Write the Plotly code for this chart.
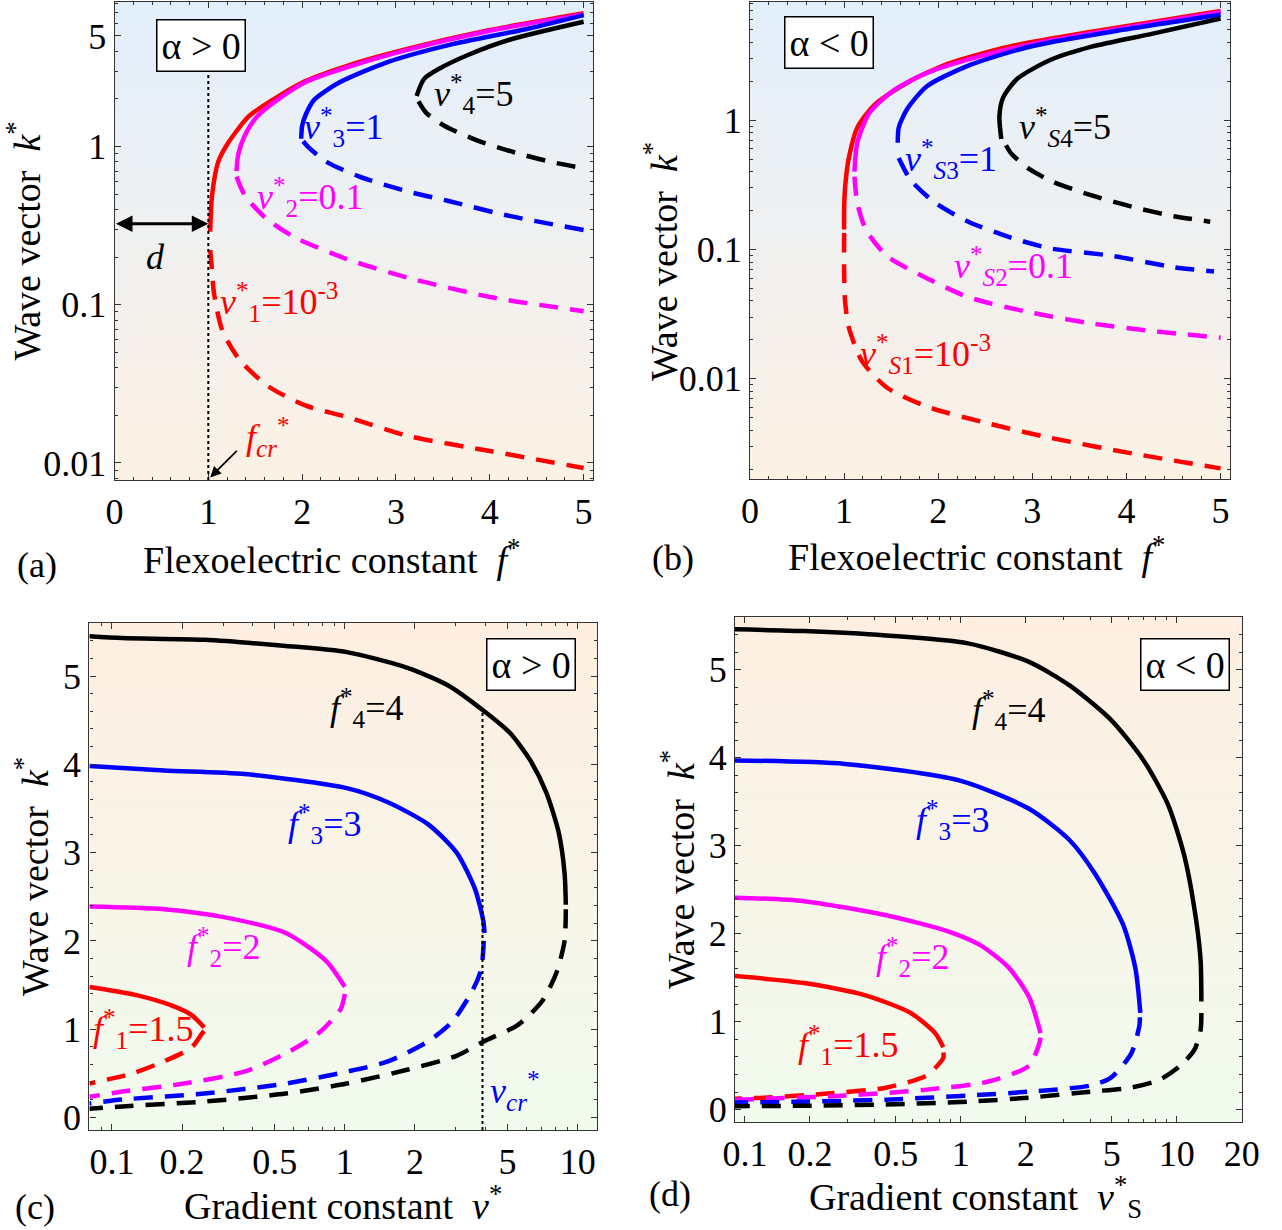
import plotly.graph_objects as go
import math

# ---------------- data ----------------
# Panel (a): alpha > 0, k* vs f*  (solid = upper branch, dashed = lower branch)
a_red_solid_f = [1.02, 1.04, 1.105, 1.214, 1.43, 1.69, 2.04, 2.48, 3.13, 4.0, 5.0]
a_red_solid_k = [0.29, 0.49, 0.80, 1.06, 1.55, 1.98, 2.6, 3.24, 4.15, 5.45, 6.97]
a_red_dash_f = [1.02, 1.04, 1.06, 1.15, 1.34, 1.65, 2.04, 2.48, 3.13, 4.0, 5.0]
a_red_dash_k = [0.222, 0.164, 0.119, 0.0686, 0.0443, 0.0302, 0.023, 0.0195, 0.0148, 0.0119, 0.0093]
a_mag_solid_f = [1.30, 1.32, 1.39, 1.52, 1.74, 2.04, 2.5, 3.13, 4.0, 5.0]
a_mag_solid_k = [0.70, 0.897, 1.18, 1.55, 1.98, 2.56, 3.2, 4.1, 5.4, 6.85]
a_mag_dash_f = [1.30, 1.39, 1.61, 1.91, 2.48, 3.13, 4.0, 5.0]
a_mag_dash_k = [0.645, 0.49, 0.354, 0.269, 0.194, 0.148, 0.112, 0.091]
a_blu_solid_f = [1.99, 2.0, 2.04, 2.13, 2.39, 2.91, 3.56, 4.43, 5.0]
a_blu_solid_k = [1.12, 1.35, 1.6, 1.98, 2.53, 3.42, 4.38, 5.6, 6.78]
a_blu_dash_f = [2.01, 2.06, 2.26, 2.61, 3.13, 3.56, 4.22, 5.0]
a_blu_dash_k = [1.08, 1.0, 0.80, 0.646, 0.519, 0.453, 0.363, 0.297]
a_blk_solid_f = [3.22, 3.30, 3.48, 3.78, 4.22, 5.0]
a_blk_solid_k = [2.09, 2.68, 3.15, 3.82, 4.75, 6.15]
a_blk_dash_f = [3.24, 3.32, 3.52, 3.87, 4.26, 4.65, 5.0]
a_blk_dash_k = [1.93, 1.64, 1.35, 1.09, 0.92, 0.80, 0.73]

# Panel (b): alpha < 0
b_red_solid_f = [1.0, 1.0, 1.01, 1.05, 1.14, 1.32, 1.67, 2.10, 2.75, 3.63, 5.0]
b_red_solid_k = [0.143, 0.2, 0.30, 0.51, 0.875, 1.31, 1.95, 2.73, 3.70, 4.83, 6.98]
b_red_dash_f = [1.0, 1.0, 1.01, 1.05, 1.19, 1.45, 1.88, 2.54, 3.19, 4.06, 5.0]
b_red_dash_k = [0.134, 0.0685, 0.040, 0.025, 0.0137, 0.0086, 0.0061, 0.0045, 0.0035, 0.00265, 0.00203]
b_mag_solid_f = [1.11, 1.14, 1.27, 1.53, 1.9, 2.5, 3.2, 4.0, 5.0]
b_mag_solid_k = [0.40, 0.67, 1.14, 1.71, 2.35, 3.2, 4.15, 5.2, 6.85]
b_mag_dash_f = [1.11, 1.14, 1.23, 1.45, 1.80, 2.32, 2.97, 3.63, 4.28, 5.0]
b_mag_dash_k = [0.366, 0.229, 0.143, 0.0895, 0.064, 0.0428, 0.0327, 0.0268, 0.0234, 0.0208]
b_blu_solid_f = [1.57, 1.58, 1.67, 1.88, 2.32, 2.97, 3.84, 5.0]
b_blu_solid_k = [0.67, 0.875, 1.22, 1.83, 2.64, 3.70, 4.83, 6.53]
b_blu_dash_f = [1.58, 1.71, 1.97, 2.32, 2.75, 3.19, 3.84, 4.5, 4.93]
b_blu_dash_k = [0.51, 0.342, 0.229, 0.164, 0.125, 0.102, 0.0895, 0.073, 0.0676]
b_blk_solid_f = [2.67, 2.65, 2.69, 2.84, 3.19, 3.63, 4.28, 5.0]
b_blk_solid_k = [0.715, 1.07, 1.50, 2.09, 2.92, 3.70, 4.67, 6.11]
b_blk_dash_f = [2.72, 2.78, 2.97, 3.23, 3.63, 4.06, 4.5, 4.89]
b_blk_dash_k = [0.64, 0.547, 0.418, 0.331, 0.262, 0.214, 0.181, 0.164]

# Panel (c): alpha > 0, k* vs v*
c_blk_solid_v = [0.08, 0.111, 0.249, 0.558, 1.02, 1.87, 2.79, 3.93, 5.1, 6.24, 7.33, 8.28, 8.78, 8.89]
c_blk_solid_k = [5.45, 5.43, 5.41, 5.34, 5.27, 5.09, 4.89, 4.61, 4.36, 4.05, 3.68, 3.23, 2.77, 2.41]
c_blk_dash_v = [8.89, 8.78, 8.1, 7.04, 5.54, 3.93, 3.02, 1.87, 1.02, 0.558, 0.249, 0.111, 0.08]
c_blk_dash_k = [2.36, 2.0, 1.64, 1.32, 1.05, 0.86, 0.70, 0.545, 0.386, 0.273, 0.182, 0.127, 0.10]
c_blu_solid_v = [0.08, 0.167, 0.373, 1.02, 1.53, 2.28, 3.02, 3.62, 3.93, 3.98]
c_blu_solid_k = [3.98, 3.93, 3.89, 3.73, 3.57, 3.32, 3.0, 2.59, 2.23, 2.09]
c_blu_dash_v = [3.95, 3.85, 3.55, 2.9, 2.28, 1.53, 1.02, 0.558, 0.249, 0.111, 0.08]
c_blu_dash_k = [2.0, 1.68, 1.45, 1.09, 0.864, 0.636, 0.52, 0.386, 0.273, 0.205, 0.16]
c_mag_solid_v = [0.08, 0.167, 0.302, 0.558, 0.834, 1.0]
c_mag_solid_k = [2.39, 2.36, 2.27, 2.09, 1.77, 1.48]
c_mag_dash_v = [1.0, 0.96, 0.77, 0.558, 0.373, 0.204, 0.111, 0.08]
c_mag_dash_k = [1.4, 1.23, 0.955, 0.727, 0.523, 0.386, 0.295, 0.236]
c_red_solid_v = [0.08, 0.126, 0.18, 0.22, 0.249]
c_red_solid_k = [1.48, 1.39, 1.27, 1.16, 1.02]
c_red_dash_v = [0.249, 0.244, 0.22, 0.167, 0.122, 0.08]
c_red_dash_k = [0.98, 0.955, 0.795, 0.636, 0.5, 0.386]

# Panel (d): alpha < 0, k* vs v*_S
d_blk_solid_v = [0.09, 0.188, 0.45, 1.08, 2.07, 3.2, 4.96, 7.02, 9.1, 10.85, 12.3, 12.9, 13.0]
d_blk_solid_k = [5.46, 5.44, 5.39, 5.30, 5.09, 4.82, 4.43, 3.97, 3.47, 2.88, 2.15, 1.69, 1.23]
d_blk_dash_v = [13.0, 12.9, 12.1, 10.4, 8.36, 6.16, 3.98, 2.07, 1.08, 0.45, 0.188, 0.09]
d_blk_dash_k = [1.1, 0.91, 0.685, 0.50, 0.342, 0.251, 0.205, 0.137, 0.091, 0.06, 0.045, 0.04]
d_blu_solid_v = [0.09, 0.291, 0.99, 2.07, 3.2, 4.16, 5.65, 6.44, 6.78]
d_blu_solid_k = [3.97, 3.93, 3.74, 3.42, 3.06, 2.69, 2.10, 1.60, 1.10]
d_blu_dash_v = [6.75, 6.72, 6.16, 4.96, 3.98, 2.07, 1.08, 0.45, 0.188, 0.09]
d_blu_dash_k = [1.05, 0.96, 0.64, 0.365, 0.274, 0.205, 0.16, 0.114, 0.091, 0.082]
d_mag_solid_v = [0.09, 0.188, 0.45, 0.866, 1.23, 1.66, 2.07, 2.34]
d_mag_solid_k = [2.41, 2.37, 2.21, 2.03, 1.87, 1.62, 1.28, 0.87]
d_mag_dash_v = [2.34, 2.31, 2.07, 1.34, 0.696, 0.291, 0.122, 0.09]
d_mag_dash_k = [0.82, 0.753, 0.50, 0.32, 0.228, 0.16, 0.123, 0.114]
d_red_solid_v = [0.09, 0.188, 0.362, 0.585, 0.76, 0.83]
d_red_solid_k = [1.52, 1.44, 1.30, 1.10, 0.87, 0.71]
d_red_dash_v = [0.83, 0.83, 0.696, 0.45, 0.234, 0.122, 0.09]
d_red_dash_k = [0.65, 0.59, 0.39, 0.25, 0.18, 0.137, 0.125]

f_ticks = [0, 1, 2, 3, 4, 5]
a_k_ticks = [0.01, 0.1, 1, 5]
a_k_ticktext = ["0.01", "0.1", "1", "5"]
b_k_ticks = [0.01, 0.1, 1]
b_k_ticktext = ["0.01", "0.1", "1"]
c_v_ticks = [0.1, 0.2, 0.5, 1, 2, 5, 10]
d_v_ticks = [0.1, 0.2, 0.5, 1, 2, 5, 10, 20]
k_lin_ticks = [0, 1, 2, 3, 4, 5]

# ---------------- styling ----------------
W, H = 1282, 1230
FONT = "Liberation Serif, Times New Roman, serif"
RED, MAG, BLU, BLK = "#FF0000", "#FF00FF", "#0000FF", "#000000"
LW = 4.5
DASH = "19px,12px"
NB = "\u00a0"

def px_dom_x(x0, x1):
    return [x0 / W, x1 / W]

def px_dom_y(ytop, ybot):
    return [1 - ybot / H, 1 - ytop / H]

fig = go.Figure()

def add_curve(xs, ys, color, dashed, xa, ya):
    fig.add_trace(go.Scatter(x=xs, y=ys, mode="lines", xaxis=xa, yaxis=ya,
                             line=dict(color=color, width=LW, dash=DASH if dashed else "solid",
                                       shape="spline", smoothing=0.7),
                             showlegend=False, hoverinfo="skip"))

panels = {
    ("x", "y"): [
        (a_red_solid_f, a_red_solid_k, RED, False), (a_red_dash_f, a_red_dash_k, RED, True),
        (a_mag_solid_f, a_mag_solid_k, MAG, False), (a_mag_dash_f, a_mag_dash_k, MAG, True),
        (a_blu_solid_f, a_blu_solid_k, BLU, False), (a_blu_dash_f, a_blu_dash_k, BLU, True),
        (a_blk_solid_f, a_blk_solid_k, BLK, False), (a_blk_dash_f, a_blk_dash_k, BLK, True)],
    ("x2", "y2"): [
        (b_red_solid_f, b_red_solid_k, RED, False), (b_red_dash_f, b_red_dash_k, RED, True),
        (b_mag_solid_f, b_mag_solid_k, MAG, False), (b_mag_dash_f, b_mag_dash_k, MAG, True),
        (b_blu_solid_f, b_blu_solid_k, BLU, False), (b_blu_dash_f, b_blu_dash_k, BLU, True),
        (b_blk_solid_f, b_blk_solid_k, BLK, False), (b_blk_dash_f, b_blk_dash_k, BLK, True)],
    ("x3", "y3"): [
        (c_red_solid_v, c_red_solid_k, RED, False), (c_red_dash_v, c_red_dash_k, RED, True),
        (c_mag_solid_v, c_mag_solid_k, MAG, False), (c_mag_dash_v, c_mag_dash_k, MAG, True),
        (c_blu_solid_v, c_blu_solid_k, BLU, False), (c_blu_dash_v, c_blu_dash_k, BLU, True),
        (c_blk_solid_v, c_blk_solid_k, BLK, False), (c_blk_dash_v, c_blk_dash_k, BLK, True)],
    ("x4", "y4"): [
        (d_red_solid_v, d_red_solid_k, RED, False), (d_red_dash_v, d_red_dash_k, RED, True),
        (d_mag_solid_v, d_mag_solid_k, MAG, False), (d_mag_dash_v, d_mag_dash_k, MAG, True),
        (d_blu_solid_v, d_blu_solid_k, BLU, False), (d_blu_dash_v, d_blu_dash_k, BLU, True),
        (d_blk_solid_v, d_blk_solid_k, BLK, False), (d_blk_dash_v, d_blk_dash_k, BLK, True)],
}
for (xa, ya), curves in panels.items():
    for xs, ys, col, dsh in curves:
        add_curve(xs, ys, col, dsh, xa, ya)

# gradient backgrounds (stripes in axis-domain coordinates)
def gradient(xname, yname, top, bottom, n=70):
    for i in range(n):
        t = (i + 0.5) / n  # 0 at bottom
        c = tuple(round(bottom[j] + (top[j] - bottom[j]) * t) for j in range(3))
        fig.add_shape(type="rect", xref=f"{xname} domain", yref=f"{yname} domain",
                      x0=0, x1=1, y0=i / n, y1=min(1, (i + 1) / n + 0.002),
                      fillcolor=f"rgb{c}", line=dict(width=0), layer="below")

BLUE_TOP, PEACH_BOT = (226, 239, 252), (253, 241, 228)
PEACH_TOP, GREEN_BOT = (254, 239, 226), (241, 251, 238)
gradient("x", "y", BLUE_TOP, PEACH_BOT)
gradient("x2", "y2", BLUE_TOP, PEACH_BOT)
gradient("x3", "y3", PEACH_TOP, GREEN_BOT)
gradient("x4", "y4", PEACH_TOP, GREEN_BOT)

tickfont = dict(family=FONT, size=36, color="black")
titlefont = dict(family=FONT, size=38, color="black")

def axis_common():
    return dict(showline=True, linecolor="#333", linewidth=1.2, mirror="allticks",
                ticks="inside", ticklen=6, tickwidth=1.2, tickcolor="#333",
                showgrid=False, zeroline=False, tickfont=tickfont, automargin=False)

def log_minor(lo_exp, hi_exp):
    vals = []
    for e in range(lo_exp, hi_exp + 1):
        for m in range(2, 10):
            vals.append(m * 10 ** e)
    return vals

# axis ranges
a_xr = [0, 5.1]
a_yr = [math.log10(0.0078), math.log10(8.2)]
b_yr = [math.log10(0.00168), math.log10(8.2)]
c_xr = [math.log10(0.08), math.log10(12.1)]
d_xr = [math.log10(0.09), math.log10(20.05)]
cd_yr = [-0.14, 5.6]

fig.update_layout(
    width=W, height=H, margin=dict(l=0, r=0, t=0, b=0, autoexpand=False), autosize=False,
    paper_bgcolor="white", plot_bgcolor="rgba(0,0,0,0)", showlegend=False,
    font=dict(family=FONT, color="black"),
)

F_TITLE = "Flexoelectric constant" + NB + NB + "<i>f</i><sup>*</sup>"
K_TITLE = "Wave vector" + NB + NB + "<i>k</i><sup>*</sup>"

fig.update_layout(
    xaxis=dict(**axis_common(), domain=px_dom_x(114.5, 593), anchor="y", range=a_xr,
               tickvals=f_ticks,
               minor=dict(ticks="inside", ticklen=3, dtick=0.2, tick0=0, tickcolor="#333")),
    yaxis=dict(**axis_common(), domain=px_dom_y(2, 480), anchor="x", type="log", range=a_yr,
               tickvals=a_k_ticks, ticktext=a_k_ticktext,
               minor=dict(ticks="inside", ticklen=3, tickvals=log_minor(-3, 0), tickcolor="#333"),
               title=dict(text=K_TITLE, font=titlefont, standoff=4)),
    xaxis2=dict(**axis_common(), domain=px_dom_x(750, 1230), anchor="y2", range=a_xr,
                tickvals=f_ticks,
                minor=dict(ticks="inside", ticklen=3, dtick=0.2, tick0=0, tickcolor="#333")),
    yaxis2=dict(**axis_common(), domain=px_dom_y(2, 479), anchor="x2", type="log", range=b_yr,
                tickvals=b_k_ticks, ticktext=b_k_ticktext,
                minor=dict(ticks="inside", ticklen=3, tickvals=log_minor(-3, 0), tickcolor="#333")),
    xaxis3=dict(**axis_common(), domain=px_dom_x(89.4, 597), anchor="y3", type="log", range=c_xr,
                tickvals=c_v_ticks, ticktext=[str(v) for v in c_v_ticks],
                minor=dict(ticks="inside", ticklen=3, tickvals=log_minor(-2, 1), tickcolor="#333")),
    yaxis3=dict(**axis_common(), domain=px_dom_y(623, 1130), anchor="x3", range=cd_yr,
                tickvals=k_lin_ticks,
                minor=dict(ticks="inside", ticklen=3, dtick=0.2, tick0=0, tickcolor="#333"),
                title=dict(text=K_TITLE, font=titlefont, standoff=2)),
    xaxis4=dict(**axis_common(), domain=px_dom_x(735, 1242), anchor="y4", type="log", range=d_xr,
                tickvals=d_v_ticks, ticktext=[str(v) for v in d_v_ticks],
                minor=dict(ticks="inside", ticklen=3, tickvals=log_minor(-2, 1), tickcolor="#333")),
    yaxis4=dict(**axis_common(), domain=px_dom_y(617, 1122), anchor="x4", range=cd_yr,
                tickvals=k_lin_ticks,
                minor=dict(ticks="inside", ticklen=3, dtick=0.2, tick0=0, tickcolor="#333"),
                title=dict(text=K_TITLE, font=titlefont, standoff=2)),
)

# reference dotted lines
fig.add_shape(type="line", xref="x", yref="y domain", x0=1, x1=1, y0=0, y1=0.857,
              line=dict(color="black", width=2, dash="dot"))
c_vcr = 3.9
c_vcr_top = 4.61
fig.add_shape(type="line", xref="x3", yref="y3 domain", x0=c_vcr, x1=c_vcr, y0=0,
              y1=(c_vcr_top - cd_yr[0]) / (cd_yr[1] - cd_yr[0]),
              line=dict(color="black", width=2, dash="dot"))

ann = []
LBL = 36

def lab(text, x, y, xr, yr, color, size=LBL, xanchor="left"):
    ann.append(dict(text=text, x=x, y=y, xref=xr, yref=yr, showarrow=False,
                    xanchor=xanchor, yanchor="middle",
                    font=dict(family=FONT, size=size, color=color)))

# axis titles placed as paper annotations where the reference offsets them
def title_ann(text, x, y, angle=0):
    ann.append(dict(text=text, x=x, y=y, xref="paper", yref="paper", showarrow=False,
                    xanchor="center", yanchor="middle", textangle=angle, font=titlefont))

title_ann(F_TITLE, 331 / W, 1 - 557 / H)
title_ann(F_TITLE, 976 / W, 1 - 554 / H)
title_ann(K_TITLE, 661 / W, 1 - 262 / H, angle=-90)
title_ann("Gradient constant" + NB + NB + "<i>v</i><sup>*</sup>", 343 / W, 1 - 1203 / H)
title_ann("Gradient constant" + NB + NB + "<i>v</i><sup>*</sup><sub>S</sub>", 975 / W, 1 - 1197 / H)

L = math.log10
# (a)
lab("<i>v</i><sup>*</sup><sub>4</sub>=5", 3.38, L(2.15), "x", "y", BLK)
lab("<i>v</i><sup>*</sup><sub>3</sub>=1", 2.0, L(1.33), "x", "y", BLU)
lab("<i>v</i><sup>*</sup><sub>2</sub>=0.1", 1.5, L(0.48), "x", "y", MAG)
lab("<i>v</i><sup>*</sup><sub>1</sub>=10<sup>-3</sup>", 1.1, L(0.104), "x", "y", RED)
lab("<i>d</i>", 0.44, L(0.2), "x", "y", BLK, size=36, xanchor="center")
lab("<i>f</i><sub><i>cr</i></sub><sup>*</sup>", 1.38, L(0.0145), "x", "y", RED, size=36)
# (b)
lab("<i>v</i><sup>*</sup><sub><i>S</i>4</sub>=5", 2.84, L(0.88), "x2", "y2", BLK)
lab("<i>v</i><sup>*</sup><sub><i>S</i>3</sub>=1", 1.63, L(0.5), "x2", "y2", BLU)
lab("<i>v</i><sup>*</sup><sub><i>S</i>2</sub>=0.1", 2.15, L(0.075), "x2", "y2", MAG)
lab("<i>v</i><sup>*</sup><sub><i>S</i>1</sub>=10<sup>-3</sup>", 1.15, L(0.0155), "x2", "y2", RED)
# (c)
lab("<i>f</i><sup>*</sup><sub>4</sub>=4", L(0.85), 4.64, "x3", "y3", BLK)
lab("<i>f</i><sup>*</sup><sub>3</sub>=3", L(0.56), 3.32, "x3", "y3", BLU)
lab("<i>f</i><sup>*</sup><sub>2</sub>=2", L(0.205), 1.93, "x3", "y3", MAG)
lab("<i>f</i><sup>*</sup><sub>1</sub>=1.5", L(0.081), 1.0, "x3", "y3", RED)
lab("<i>v</i><sub><i>cr</i></sub><sup>*</sup>", L(4.1), 0.3, "x3", "y3", BLU, size=36)
# (d)
lab("<i>f</i><sup>*</sup><sub>4</sub>=4", L(1.1), 4.54, "x4", "y4", BLK)
lab("<i>f</i><sup>*</sup><sub>3</sub>=3", L(0.61), 3.29, "x4", "y4", BLU)
lab("<i>f</i><sup>*</sup><sub>2</sub>=2", L(0.395), 1.74, "x4", "y4", MAG)
lab("<i>f</i><sup>*</sup><sub>1</sub>=1.5", L(0.172), 0.74, "x4", "y4", RED)

# alpha boxes
def box(text, x, y, xr, yr):
    ann.append(dict(text=text, x=x, y=y, xref=xr, yref=yr, showarrow=False,
                    xanchor="center", yanchor="middle", bgcolor="white",
                    bordercolor="black", borderwidth=1.5, borderpad=4,
                    font=dict(family=FONT, size=38, color="black")))

box("α > 0", 0.18, 0.91, "x domain", "y domain")
box("α < 0", 0.165, 0.916, "x2 domain", "y2 domain")
box("α > 0", 0.87, 0.919, "x3 domain", "y3 domain")
box("α < 0", 0.887, 0.905, "x4 domain", "y4 domain")

# arrows in (a)
d_arrow_k = 0.325
ann.append(dict(text="", x=1.0, y=L(d_arrow_k), ax=0.0, ay=L(d_arrow_k), xref="x", yref="y",
                axref="x", ayref="y", showarrow=True, arrowhead=2, arrowsize=1.1,
                arrowwidth=3, arrowside="end+start", arrowcolor="black", standoff=0, startstandoff=0))
ann.append(dict(text="", x=1.02, y=L(0.0081), ax=1.32, ay=L(0.0122), xref="x", yref="y",
                axref="x", ayref="y", showarrow=True, arrowhead=2, arrowsize=1.2,
                arrowwidth=1.8, arrowcolor="black"))

# panel letters
for t, x, y in [("(a)", 0.029, 0.541), ("(b)", 0.525, 0.546), ("(c)", 0.027, 0.019), ("(d)", 0.523, 0.029)]:
    ann.append(dict(text=t, x=x, y=y, xref="paper", yref="paper", showarrow=False,
                    xanchor="center", yanchor="middle", font=dict(family=FONT, size=36, color="black")))

fig.update_layout(annotations=ann)
fig.write_html("out.html")
